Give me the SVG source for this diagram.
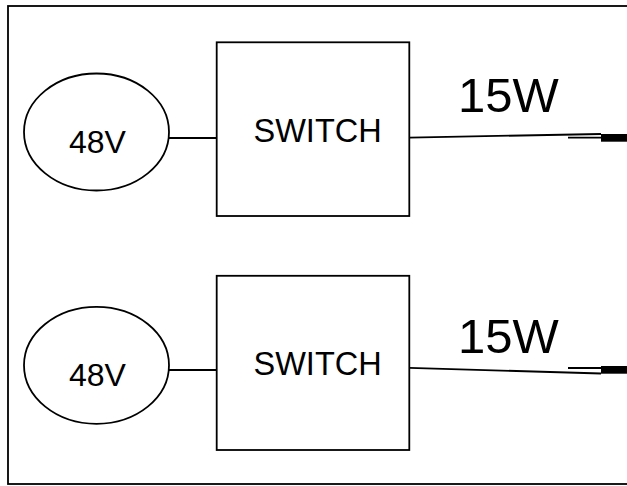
<svg xmlns="http://www.w3.org/2000/svg" width="627" height="486" viewBox="0 0 627 486">
<style>
.ln{fill:none;stroke:#000;stroke-width:1.8}
.tx{font-family:"Liberation Sans",Arial,sans-serif;fill:#000}
.s{font-size:32.5px}
.v{font-size:32px}
.w{font-size:49px}
</style>
<rect width="627" height="486" fill="#fff"/>
<g id="frame"><rect class="ln" x="8" y="6" width="630" height="478"/></g>
<g id="psu1"><ellipse class="ln" cx="96.5" cy="132" rx="72.5" ry="58.5"/><text class="tx v" x="69" y="152.7">48V</text></g>
<g id="switch1"><rect class="ln" x="216.7" y="42.3" width="192.6" height="173.7"/><text class="tx s" x="253.5" y="141.7">SWITCH</text></g>
<g id="psu2"><ellipse class="ln" cx="96.5" cy="365.3" rx="72.5" ry="58.5"/><text class="tx v" x="69" y="386">48V</text></g>
<g id="switch2"><rect class="ln" x="216.7" y="275.8" width="192.6" height="174.2"/><text class="tx s" x="253.5" y="375">SWITCH</text></g>
<g id="label1"><text class="tx w" x="458" y="111.7">15W</text></g>
<g id="label2"><text class="tx w" x="458" y="353.3">15W</text></g>
<g id="plug1"><line class="ln" x1="568" y1="137.7" x2="601" y2="137.7" stroke-width="1.4"/><rect x="601" y="134" width="27" height="7.7" fill="#000"/></g>
<g id="plug2"><line class="ln" x1="568" y1="368" x2="601" y2="368" stroke-width="1.4"/><rect x="601" y="366" width="27" height="7.7" fill="#000"/></g>
<g id="connectors">
<line class="ln" x1="169" y1="138" x2="216.7" y2="138"/>
<line class="ln" x1="169" y1="370" x2="216.7" y2="370"/>
<line class="ln" x1="409.3" y1="137.6" x2="601" y2="134"/>
<line class="ln" x1="409.3" y1="367.8" x2="601" y2="373.5"/>
</g>
</svg>
